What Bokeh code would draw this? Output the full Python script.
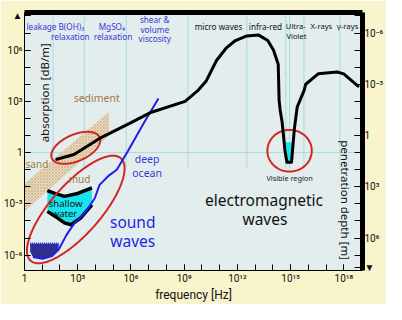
import numpy as np
from bokeh.plotting import figure
from bokeh.models import Range1d, LogAxis, LogScale, FixedTicker, CustomJSTickFormatter, Label
from bokeh.embed import file_html
from bokeh.resources import INLINE

# ---------------- axes (decade exponents) ----------------
x_major_exp = [0, 3, 6, 9, 12, 15, 18]
x_minor_exp = list(range(0, 20))
y_major_exp = [-6, -3, 0, 3, 6]
y_minor_exp = list(range(-6, 9))
depth_major_exp = [-6, -3, 0, 3, 6]
depth_minor_exp = list(range(-7, 8))
x_span = [0.0, 19.05]
y_span = [-6.9, 8.2]
depth_offset = 1.0  # log10(depth) = depth_offset - log10(absorption)
up_arrow_exp = 8        # "increasing" arrow on the absorption axis
down_arrow_exp = 7.7    # "increasing" arrow on the penetration-depth axis

# ---------------- data (log10 of frequency [Hz], log10 of absorption [dB/m]) ----------------
em_logf = [1.82, 2.79, 4.23, 5.84, 7.07, 9.05, 9.75, 10.23, 10.82, 11.36, 11.89, 12.53, 13.18, 13.71,
           14.03, 14.30, 14.35, 14.41, 14.52, 14.68, 14.79, 15.05, 15.21, 15.37, 15.75, 15.85, 16.55,
           17.62, 17.99, 18.80]
em_loga = [-0.39, -0.11, 0.83, 1.67, 2.33, 3.0, 3.61, 4.17, 5.39, 6.11, 6.56, 6.83, 6.89, 6.56,
           6.0, 5.17, 3.06, 2.5, 1.78, 0.11, -0.56, -0.56, 1.39, 2.67, 3.61, 4.0, 4.61,
           4.72, 4.61, 3.89]

sound_logf = [0.48, 1.02, 1.55, 1.93, 2.36, 2.79, 3.43, 3.96, 4.23, 4.77, 5.2, 5.84, 6.75, 7.55]
sound_loga = [-6.11, -6.22, -6.06, -5.67, -4.83, -4.17, -3.5, -2.67, -1.89, -1.33, -1.0, 0.11, 1.78, 3.17]

visible_logf = [14.63, 14.68, 14.79, 15.05, 15.145]
visible_loga = [0.6, 0.11, -0.56, -0.56, 0.6]

sediment_logf = [0.0, 4.77, 4.77, 0.0]
sediment_loga = [-1.83, 2.39, 1.0, -3.44]

shallow_top_logf = [1.29, 1.71, 2.25, 3.0, 3.80]
shallow_top_loga = [-2.22, -2.39, -2.56, -2.39, -2.06]
shallow_bot_logf = [1.29, 1.71, 2.25, 2.63, 3.16, 3.80]
shallow_bot_loga = [-3.44, -3.72, -4.11, -4.22, -3.83, -3.06]

deep_low_logf = [0.32, 1.93, 1.93, 1.55, 1.02, 0.48, 0.32]
deep_low_loga = [-5.33, -5.33, -5.67, -6.06, -6.22, -6.11, -5.8]

band_edges_logf = [1.61, 3.37, 5.73, 9.21, 12.53, 14.73, 14.94, 15.75, 17.78]
band_edges_bottom_loga = -0.94

# ---------------- colours ----------------
BLUE_T = "#3535d6"
BLUE_L = "#1f1fe8"
BROWN = "#a47a42"
RED = "#d42424"
CYAN = "#19e3ec"
NAVY = "#2f2f90"
GRIDC = "#a6dcdc"
FONT = "Noto Sans"
AXFONT = "Roboto"


def P(a):
    return [10.0 ** v for v in a]


def ellipse(cx, cy, a, b, ang_deg, n=160):
    t = np.linspace(0, 2 * np.pi, n)
    th = np.radians(ang_deg)
    u, v = a * np.cos(t), b * np.sin(t)
    xs = cx + u * np.cos(th) - v * np.sin(th)
    ys = cy + u * np.sin(th) + v * np.cos(th)
    return list(10.0 ** xs), list(10.0 ** ys)


p = figure(width=386, height=304, x_axis_type="log", y_axis_type="log",
           x_range=Range1d(10 ** x_span[0], 10 ** x_span[1]),
           y_range=Range1d(10 ** y_span[0], 10 ** y_span[1]),
           output_backend="svg", toolbar_location=None,
           background_fill_color="#e4eded", border_fill_color="#f8f4cc",
           min_border_left=24, min_border_top=12, min_border_right=2, min_border_bottom=2)
p.grid.visible = False
p.outline_line_color = None

SUP = """
const sup = {"-":"\\u207b","0":"\\u2070","1":"\\u00b9","2":"\\u00b2","3":"\\u00b3","4":"\\u2074",
             "5":"\\u2075","6":"\\u2076","7":"\\u2077","8":"\\u2078","9":"\\u2079"};
function pw(e) { return e === 0 ? "1" : "10" + String(e).split("").map(c => sup[c]).join(""); }
const v = Math.log10(tick);
const e = Math.round(v);
"""
fmt_x = CustomJSTickFormatter(code=SUP + "return pw(e);")
fmt_left = CustomJSTickFormatter(code=SUP + "if (e === %d) return '\\u25b2'; return pw(e);" % up_arrow_exp)
fmt_right = CustomJSTickFormatter(code=SUP + "if (Math.abs(v - e) > 0.01) return '\\u25bc'; return pw(e);")


def style_axis(ax, fmt, tick_len=6):
    ax.major_tick_in = tick_len
    ax.major_tick_out = 0
    ax.minor_tick_in = tick_len
    ax.minor_tick_out = 0
    ax.major_tick_line_color = "black"
    ax.minor_tick_line_color = "black"
    ax.axis_line_color = "black"
    ax.major_label_text_font = AXFONT
    ax.major_label_text_font_size = "10px"
    ax.major_label_text_color = "#111111"
    ax.major_label_standoff = 2
    ax.formatter = fmt


xa = p.xaxis[0]
xa.ticker = FixedTicker(ticks=P(x_major_exp), minor_ticks=P(x_minor_exp))
style_axis(xa, fmt_x)
xa.axis_label = "frequency [Hz]"
xa.axis_label_text_font = AXFONT
xa.axis_label_text_font_size = "12px"
xa.axis_label_text_font_style = "normal"
xa.axis_label_text_color = "#111111"
xa.axis_label_standoff = 1

ya = p.yaxis[0]
ya.ticker = FixedTicker(ticks=P(y_major_exp + [up_arrow_exp]), minor_ticks=P(y_minor_exp))
style_axis(ya, fmt_left)

p.extra_y_ranges = {"depth": Range1d(start=10 ** (depth_offset - y_span[0]),
                                      end=10 ** (depth_offset - y_span[1]))}
p.extra_y_scales = {"depth": LogScale()}
ra = LogAxis(y_range_name="depth",
             ticker=FixedTicker(ticks=P(depth_major_exp + [down_arrow_exp]),
                                minor_ticks=P(depth_minor_exp)))
style_axis(ra, fmt_right, tick_len=8)
ra.axis_line_width = 5
ra.major_label_standoff = 2
p.add_layout(ra, "right")

ta = LogAxis(ticker=FixedTicker(ticks=[], minor_ticks=[]),
             major_tick_in=0, major_tick_out=0, minor_tick_in=0, minor_tick_out=0,
             major_label_standoff=0, axis_line_width=5, axis_line_color="black")
p.add_layout(ta, "above")

# ---------------- grid lines (band boundaries) ----------------
p.segment(x0=P(band_edges_logf), x1=P(band_edges_logf),
          y0=[10 ** band_edges_bottom_loga] * len(band_edges_logf),
          y1=[10 ** (y_span[1] + 0.5)] * len(band_edges_logf),
          line_color=GRIDC, line_width=1)
p.segment(x0=[10 ** (x_span[0] - 0.5)], x1=[10 ** (x_span[1] + 0.5)], y0=[1.0], y1=[1.0],
          line_color=GRIDC, line_width=1)

# ---------------- sediment band ----------------
p.patch(P(sediment_logf), P(sediment_loga), fill_color="#e9dcc0", line_color=None,
        hatch_pattern="x", hatch_color="#c2a272", hatch_scale=3, hatch_weight=0.7, hatch_alpha=0.75)

# ---------------- shallow water ----------------
p.patch(P(shallow_top_logf + shallow_bot_logf[::-1]), P(shallow_top_loga + shallow_bot_loga[::-1]),
        fill_color=CYAN, line_color=None)
p.line(P(shallow_top_logf), P(shallow_top_loga), line_color="black", line_width=3.5, line_join="round")
p.line(P(shallow_bot_logf), P(shallow_bot_loga), line_color="black", line_width=3.5, line_join="round")

# ---------------- deep low-frequency region ----------------
p.patch(P(deep_low_logf), P(deep_low_loga), fill_color=NAVY, line_color=None)
p.line(P(deep_low_logf[:2]), P(deep_low_loga[:2]), line_color=BLUE_L, line_width=2.5, line_dash="1 1")

# ---------------- red ellipses ----------------
ex, ey = ellipse(2.89, -3.33, 3.93, 1.42, 50)
p.line(ex, ey, line_color=RED, line_width=2)
ex, ey = ellipse(2.89, 0.28, 1.48, 0.77, 25)
p.line(ex, ey, line_color=RED, line_width=2)
ex, ey = ellipse(14.94, 0.11, 1.25, 1.22, 0)
p.line(ex, ey, line_color=RED, line_width=2)

# ---------------- curves ----------------
p.patch(P(visible_logf), P(visible_loga), fill_color=CYAN, line_color=None)
p.line(P(sound_logf), P(sound_loga), line_color=BLUE_L, line_width=2, line_join="round")
p.line(P(em_logf), P(em_loga), line_color="black", line_width=3, line_join="round", line_cap="round")


# ---------------- texts ----------------
def lab(xe, ye, text, size, color, align="center", angle=0.0, style="normal"):
    p.add_layout(Label(x=10 ** xe, y=10 ** ye, text=text, text_font=FONT,
                       text_font_size=f"{size}px", text_color=color, text_align=align,
                       text_baseline="middle", angle=angle, text_font_style=style))


lab(0.11, 7.39, "leakage B(OH)\u2083", 8.2, BLUE_T, "left")
lab(1.50, 6.78, "relaxation", 8.2, BLUE_T, "left")
lab(4.18, 7.39, "MgSO\u2084", 8.2, BLUE_T, "left")
lab(3.90, 6.78, "relaxation", 8.2, BLUE_T, "left")
lab(7.34, 7.78, "shear &", 8.2, BLUE_T)
lab(7.34, 7.22, "volume", 8.2, BLUE_T)
lab(7.34, 6.67, "viscosity", 8.2, BLUE_T)

lab(9.59, 7.39, "micro waves", 8.2, "#111111", "left")
lab(12.64, 7.39, "infra-red", 8.2, "#111111", "left")
lab(14.73, 7.39, "Ultra-", 7.6, "#111111", "left")
lab(14.76, 6.83, "Violet", 7.6, "#111111", "left")
lab(16.12, 7.39, "X-rays", 7.6, "#111111", "left")
lab(17.6, 7.39, "\u03b3-rays", 7.8, "#111111", "left")

lab(1.12, 3.5, "absorption [dB/m]", 11.5, "#111111", angle=np.pi / 2)
lab(18.1, -2.78, "penetration depth [m]", 11.5, "#111111", angle=-np.pi / 2)

lab(4.07, 3.22, "sediment", 10.5, BROWN)
lab(0.70, -0.67, "sand", 10, BROWN)
lab(3.10, -1.55, "mud", 10, BROWN)
lab(6.91, -0.39, "deep", 10.5, BLUE_T)
lab(6.91, -1.17, "ocean", 10.5, BLUE_T)
lab(2.32, -2.98, "shallow", 9.5, "#111111")
lab(2.25, -3.56, "water", 9.5, "#111111")
lab(6.10, -4.06, "sound", 15.5, BLUE_L)
lab(6.10, -5.17, "waves", 15.5, BLUE_L)
lab(13.50, -2.78, "electromagnetic", 15.5, "#111111")
lab(13.55, -3.89, "waves", 15.5, "#111111")
lab(14.94, -1.5, "Visible region", 7.3, "#222222")

open("out.html", "w").write(file_html(p, INLINE))
